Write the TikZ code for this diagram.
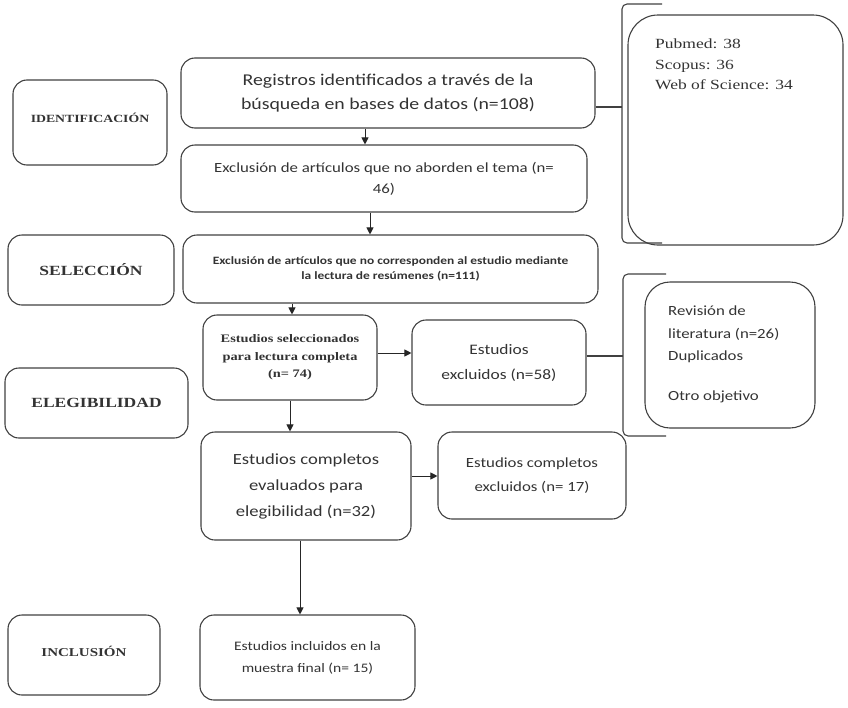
\documentclass[tikz,border=0pt]{standalone}
\usepackage{fontspec}
\setmainfont{Carlito}
\newfontfamily\widef[FakeStretch=1.2]{Carlito}
\newfontfamily\serifx{Liberation Serif}
\newfontfamily\wideserif[FakeStretch=1.25]{Liberation Serif}
\usetikzlibrary{arrows.meta}
\begin{document}
\begin{tikzpicture}[x=1pt,y=-1pt,
  box/.style={draw=black!75, line width=1.1pt, rounded corners=14pt, align=center, inner sep=2pt, text=black!80},
  lab/.style={box},
  arr/.style={-{Triangle[length=7pt,width=7pt]}, line width=1pt, draw=black!85},
  ln/.style={line width=1.1pt, draw=black!75}]
\useasboundingbox (0,0) rectangle (848,707);
% left labels
\node[lab, minimum width=154pt, minimum height=85pt, font=\wideserif\bfseries\fontsize{11}{13}\selectfont] (ident) at (90,122.5) {\raisebox{10pt}{IDENTIFICACIÓN}};
\node[lab, minimum width=166pt, minimum height=70pt, font=\wideserif\bfseries\fontsize{14}{16}\selectfont] (selec) at (91,270) {SELECCIÓN};
\node[lab, minimum width=183pt, minimum height=70pt, font=\wideserif\bfseries\fontsize{14}{16}\selectfont] (eleg) at (96.5,403) {ELEGIBILIDAD};
\node[lab, minimum width=152pt, minimum height=80pt, font=\wideserif\bfseries\fontsize{12}{14}\selectfont] (incl) at (84,655) {\raisebox{7pt}{INCLUSIÓN}};
% main column
\node[box, minimum width=414pt, minimum height=70pt, font=\widef\fontsize{16.5}{24}\selectfont] (reg) at (388,93) {Registros identificados a través de la\\búsqueda en bases de datos (n=108)};
\node[box, minimum width=406pt, minimum height=67pt, font=\widef\fontsize{14}{21}\selectfont] (exc1) at (384,178.5) {Exclusión de artículos que no aborden el tema (n=\\46)};
\node[box, minimum width=415pt, minimum height=68pt, font=\widef\bfseries\fontsize{11.2}{15}\selectfont] (exc2) at (390.5,269) {Exclusión de artículos que no corresponden al estudio mediante\\la lectura de resúmenes (n=111)};
\node[box, minimum width=174pt, minimum height=85pt, font=\wideserif\bfseries\fontsize{11.5}{17.5}\selectfont] (selct) at (290,357.5) {\raisebox{5pt}{\parbox{170pt}{\centering Estudios seleccionados\\para lectura completa\\(n= 74)}}};
\node[box, minimum width=172pt, minimum height=85pt, font=\widef\fontsize{14.5}{25}\selectfont] (excl) at (499,362.5) {\raisebox{2pt}{\parbox{170pt}{\centering Estudios\\excluidos (n=58)}}};
\node[box, minimum width=210pt, minimum height=108pt, font=\widef\fontsize{15.5}{26}\selectfont] (comp) at (306,486) {Estudios completos\\evaluados para\\elegibilidad (n=32)};
\node[box, minimum width=188pt, minimum height=87pt, font=\widef\fontsize{14}{24}\selectfont] (compx) at (532,475.5) {\raisebox{12pt}{\parbox{180pt}{\centering Estudios completos\\excluidos (n= 17)}}};
\node[box, minimum width=215pt, minimum height=85pt, font=\widef\fontsize{13}{22}\selectfont] (inc) at (307.5,657.5) {Estudios incluidos en la\\muestra final (n= 15)};
% side boxes
\node[box, rounded corners=30pt, minimum width=215pt, minimum height=230pt] (pub) at (735.5,130) {};
\node[anchor=north west, align=left, inner sep=0pt, text=black!80, font=\wideserif\fontsize{14}{20.5}\selectfont] (publist) at (655,39) {Pubmed: 38\\Scopus: 36\\Web of Science: 34};
\node[box, rounded corners=25pt, minimum width=170pt, minimum height=146pt] (rev) at (730,355) {};
\node[anchor=north west, align=left, inner sep=0pt, text=black!80, font=\widef\fontsize{14}{22.5}\selectfont] (revlist) at (668,306) {Revisión de\\literatura (n=26)\\Duplicados\\[17pt]Otro objetivo};
% arrows
\draw[arr] (reg.south -| 365,0) -- (exc1.north -| 365,0);
\draw[arr] (exc1.south -| 370,0) -- (exc2.north -| 370,0);
\draw[arr] (exc2.south -| 292,0) -- (selct.north -| 292,0);
\draw[arr] (selct.east |- 0,353) -- (excl.west |- 0,353);
\draw[arr] (selct.south -| 290,0) -- (comp.north -| 290,0);
\draw[arr] (comp.east |- 0,476) -- (compx.west |- 0,476);
\draw[arr] (comp.south -| 300,0) -- (inc.north -| 300,0);
% braces
\coordinate (b1t) at (662,4);
\coordinate (b1m) at (622,107);
\coordinate (b1b) at (662,243);
\draw[ln, rounded corners=5pt] (b1t) -- (b1t -| b1m) -- (b1b -| b1m) -- (b1b);
\draw[ln] (reg.east |- b1m) -- (b1m);
\coordinate (b2t) at (666,274);
\coordinate (b2m) at (623,356);
\coordinate (b2b) at (666,436);
\draw[ln, rounded corners=5pt] (b2t) -- (b2t -| b2m) -- (b2b -| b2m) -- (b2b);
\draw[ln] (excl.east |- b2m) -- (b2m);
\end{tikzpicture}
\end{document}
